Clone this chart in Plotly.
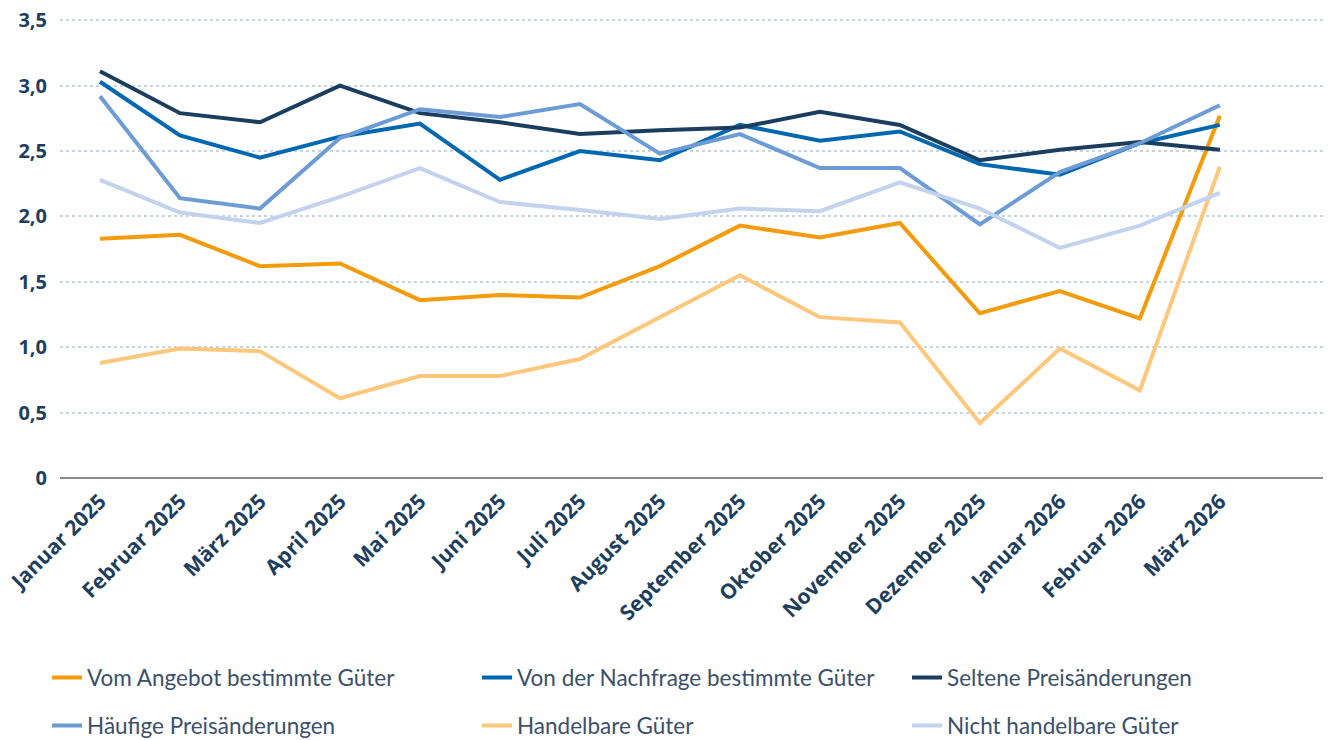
import plotly.graph_objects as go

months = ["Januar 2025", "Februar 2025", "März 2025", "April 2025", "Mai 2025",
          "Juni 2025", "Juli 2025", "August 2025", "September 2025", "Oktober 2025",
          "November 2025", "Dezember 2025", "Januar 2026", "Februar 2026", "März 2026"]

angebot = [1.83, 1.86, 1.62, 1.64, 1.36, 1.40, 1.38, 1.62, 1.93, 1.84, 1.95, 1.26, 1.43, 1.22, 2.77]
nachfrage = [3.03, 2.62, 2.45, 2.61, 2.71, 2.28, 2.50, 2.43, 2.70, 2.58, 2.65, 2.40, 2.32, 2.56, 2.70]
seltene = [3.11, 2.79, 2.72, 3.00, 2.79, 2.72, 2.63, 2.66, 2.68, 2.80, 2.70, 2.43, 2.51, 2.57, 2.51]
haeufige = [2.92, 2.14, 2.06, 2.60, 2.82, 2.76, 2.86, 2.48, 2.63, 2.37, 2.37, 1.94, 2.34, 2.56, 2.85]
handelbar = [0.88, 0.99, 0.97, 0.61, 0.78, 0.78, 0.91, 1.23, 1.55, 1.23, 1.19, 0.42, 0.99, 0.67, 2.38]
nicht_handelbar = [2.28, 2.03, 1.95, 2.15, 2.37, 2.11, 2.05, 1.98, 2.06, 2.04, 2.26, 2.06, 1.76, 1.93, 2.18]

series_names = ["Vom Angebot bestimmte Güter", "Von der Nachfrage bestimmte Güter",
                "Seltene Preisänderungen", "Häufige Preisänderungen",
                "Handelbare Güter", "Nicht handelbare Güter"]
series_values = [angebot, nachfrage, seltene, haeufige, handelbar, nicht_handelbar]
series_colors = ["#f49b0c", "#0067b1", "#1a3d60", "#6c9cd6", "#fdc77c", "#c3d3ee"]

ytickvals = [0, 0.5, 1.0, 1.5, 2.0, 2.5, 3.0, 3.5]
yticktext = ["0", "0,5", "1,0", "1,5", "2,0", "2,5", "3,0", "3,5"]

# legend slots: 3 columns x 2 rows (paper coordinates)
legend_cols = [-0.0102, 0.3281, 0.6664]
legend_rows = [-0.4356, -0.5402]

fig = go.Figure()
legend_font = dict(family="Lato, sans-serif", size=22.5, color="#3b506c")
layout_legends = {}
for i, (name, vals, color) in enumerate(zip(series_names, series_values, series_colors)):
    key = "legend" if i == 0 else f"legend{i + 1}"
    fig.add_trace(go.Scatter(
        x=months, y=vals, name=name, mode="lines",
        line=dict(color=color, width=4),
        legend=key,
    ))
    layout_legends[key] = dict(
        orientation="h", x=legend_cols[i % 3], xanchor="left",
        y=legend_rows[i // 3], yanchor="middle",
        font=legend_font, itemwidth=30, bgcolor="rgba(0,0,0,0)",
    )

fig.update_layout(
    width=1323, height=732,
    margin=dict(l=52, r=0, t=10.7, b=262, autoexpand=False),
    paper_bgcolor="white", plot_bgcolor="white",
    showlegend=True,
    xaxis=dict(
        type="category", range=[-0.5, 15.39], automargin=False,
        tickangle=-45, showgrid=False, zeroline=False,
        showline=False, ticks="", ticklabelstandoff=6,
        tickfont=dict(family="Open Sans, sans-serif", size=21, color="#1d3e5e", weight="bold"),
    ),
    yaxis=dict(
        range=[0, 3.51], tickvals=ytickvals, ticktext=yticktext, automargin=False,
        showgrid=True, gridcolor="#c9d4e2", gridwidth=2, griddash="dot",
        zeroline=True, zerolinecolor="#8a8a8a", zerolinewidth=2,
        ticks="", ticklabelstandoff=12, ticklabeloverflow="allow",
        tickfont=dict(family="Open Sans, sans-serif", size=20, color="#1d3e5e", weight="bold"),
    ),
    **layout_legends,
)

fig.write_html("out.html")
